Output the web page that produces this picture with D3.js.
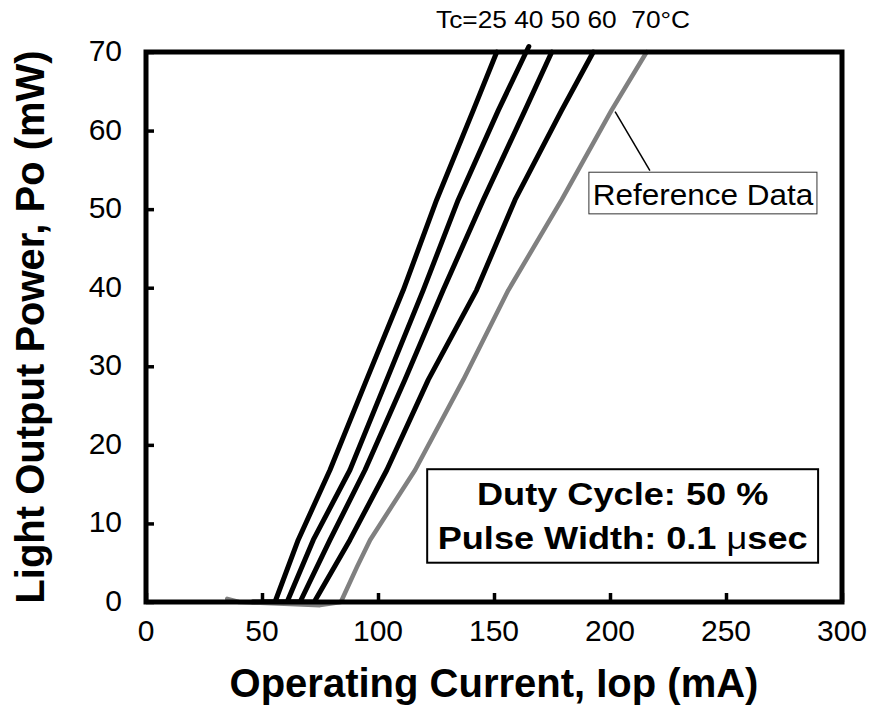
<!DOCTYPE html>
<html>
<head>
<meta charset="utf-8">
<script src="https://d3js.org/d3.v7.min.js"></script>
<style>
  body { margin: 0; background: #fff; }
  text { font-family: "Liberation Sans", Arial, sans-serif; }
</style>
</head>
<body>
<script>
// ---- data ----
// current (mA) for each output power level (mW)
const power25 = [0, 0, 7.9, 16.8, 28.3, 39.7, 51.2, 62.6, 70]
const curr25  = [46, 55.6, 65.6, 79.3, 95.1, 110.9, 125.3, 141.1, 151.2]
const power40 = [0, 0, 7.9, 16.8, 28.3, 39.7, 51.2, 62.6, 70.7]
const curr40  = [50, 60.8, 72.1, 87.9, 103.8, 119.5, 134.6, 151.9, 165]
const power50 = [0, 0, 7.9, 16.8, 28.3, 39.7, 51.2, 62.6, 70]
const curr50  = [56, 66.4, 79.3, 94.4, 111.6, 128.1, 145.4, 163.4, 174.9]
const power60 = [0, 0, 7.9, 16.8, 28.3, 39.7, 51.2, 62.6, 70]
const curr60  = [62, 72.5, 87.9, 103.8, 121.7, 142.5, 159.1, 179.2, 192.8]
// reference data (grey)
const powerRef = [0.4, 0, -0.4, 0, 4.5, 7.9, 16.8, 28.3, 39.7, 51.2, 62.6, 70]
const currRef  = [35, 40, 75, 84, 91, 96.6, 116, 136.8, 156.2, 179.2, 200.7, 215.8]

const xTicks = [0, 50, 100, 150, 200, 250, 300]
const yTicks = [0, 10, 20, 30, 40, 50, 60, 70]

const width = 869, height = 713

const svg = d3.select("body").append("svg")
    .attr("width", width)
    .attr("height", height)

// ---- scales ----
const x = d3.scaleLinear().domain([0, 300]).range([146, 842])
const y = d3.scaleLinear().domain([0, 70]).range([602, 52])

// ---- axes (ticks point inwards, labels drawn separately) ----
const xAxis = svg.append("g")
    .attr("transform", `translate(0,${y(0)})`)
    .call(d3.axisBottom(x).tickValues(xTicks).tickSize(-9).tickFormat(""))
xAxis.select(".domain").remove()
xAxis.selectAll("line").attr("stroke", "#000").attr("stroke-width", 3.5)

const yAxis = svg.append("g")
    .attr("transform", `translate(${x(0)},0)`)
    .call(d3.axisLeft(y).tickValues(yTicks).tickSize(-8).tickFormat(""))
yAxis.select(".domain").remove()
yAxis.selectAll("line").attr("stroke", "#000").attr("stroke-width", 3.5)

// tick labels
svg.append("g").selectAll("text")
    .data(xTicks)
    .join("text")
    .attr("x", d => x(d))
    .attr("y", 641)
    .attr("text-anchor", "middle")
    .attr("font-size", 30)
    .text(d => d)

svg.append("g").selectAll("text")
    .data(yTicks)
    .join("text")
    .attr("x", 122)
    .attr("y", d => y(d) + 9)
    .attr("text-anchor", "end")
    .attr("font-size", 30)
    .text(d => d)

// ---- curves ----
const line = d3.line()
    .x(d => x(d[0]))
    .y(d => y(d[1]))

const series = [
    { c: curr25, p: power25, color: "#000", w: 5 },
    { c: curr40, p: power40, color: "#000", w: 5 },
    { c: curr50, p: power50, color: "#000", w: 5 },
    { c: curr60, p: power60, color: "#000", w: 5 },
    { c: currRef, p: powerRef, color: "#808080", w: 4.5 }
]

svg.append("g").selectAll("path")
    .data(series)
    .join("path")
    .attr("d", s => line(d3.zip(s.c, s.p)))
    .attr("fill", "none")
    .attr("stroke", s => s.color)
    .attr("stroke-width", s => s.w)
    .attr("stroke-linejoin", "round")
    .attr("stroke-linecap", "round")

// plot frame
svg.append("rect")
    .attr("x", x(0))
    .attr("y", y(70))
    .attr("width", x(300) - x(0))
    .attr("height", y(0) - y(70))
    .attr("fill", "none")
    .attr("stroke", "#000")
    .attr("stroke-width", 5)

// ---- labels ----
// text in the original is a bit wider than Arial, so stretch horizontally
function wideText(px, py, sx) {
    return svg.append("text")
        .attr("transform", `translate(${px},${py}) scale(${sx},1)`)
}

wideText(436, 28, 1.12)
    .attr("font-size", 23.5)
    .style("white-space", "pre")
    .text("Tc=25 40 50 60  70\u00B0C")

// callout for reference data
svg.append("line")
    .attr("x1", x(202.2)).attr("y1", y(62.4))
    .attr("x2", x(217.2)).attr("y2", y(54.9))
    .attr("stroke", "#000")
    .attr("stroke-width", 1.5)

svg.append("rect")
    .attr("x", x(190.9)).attr("y", y(54.7))
    .attr("width", x(289.2) - x(190.9))
    .attr("height", y(49.4) - y(54.7))
    .attr("fill", "#fff")
    .attr("stroke", "#333")
    .attr("stroke-width", 1)

wideText((x(190.9) + x(289.2)) / 2, y(49.4) - 9, 1.05)
    .attr("text-anchor", "middle")
    .attr("font-size", 30)
    .text("Reference Data")

// condition box
svg.append("rect")
    .attr("x", x(121.2)).attr("y", y(16.9))
    .attr("width", x(289.7) - x(121.2))
    .attr("height", y(5.0) - y(16.9))
    .attr("fill", "#fff")
    .attr("stroke", "#000")
    .attr("stroke-width", 2)

const cx = (x(121.2) + x(289.7)) / 2
wideText(cx, 505, 1.13)
    .attr("text-anchor", "middle")
    .attr("font-size", 32)
    .attr("font-weight", "bold")
    .text("Duty Cycle: 50 %")

const pw = wideText(cx, 549, 1.13)
    .attr("text-anchor", "middle")
    .attr("font-size", 32)
    .attr("font-weight", "bold")
pw.append("tspan").text("Pulse Width: 0.1 ")
pw.append("tspan").attr("font-weight", "normal").text("\u03BC")
pw.append("tspan").text("sec")

// axis titles
svg.append("text")
    .attr("x", (x(0) + x(300)) / 2)
    .attr("y", 697)
    .attr("text-anchor", "middle")
    .attr("font-size", 40)
    .attr("font-weight", "bold")
    .text("Operating Current, Iop (mA)")

svg.append("text")
    .attr("transform", `translate(44,${(y(0) + y(70)) / 2}) rotate(-90)`)
    .attr("text-anchor", "middle")
    .attr("font-size", 40)
    .attr("font-weight", "bold")
    .text("Light Output Power, Po (mW)")
</script>
</body>
</html>
